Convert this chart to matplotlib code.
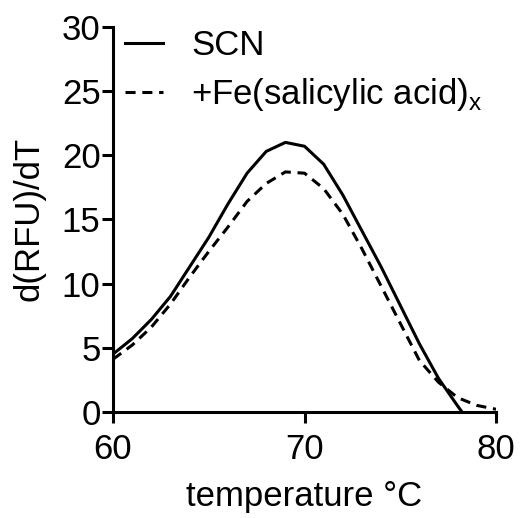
import matplotlib
matplotlib.use("Agg")
import matplotlib.pyplot as plt

plt.rcParams["font.family"] = ["Liberation Sans", "DejaVu Sans"]

# ---- data (1 degree steps) ----
temperature = [60, 61, 62, 63, 64, 65, 66, 67, 68, 69,
               70, 71, 72, 73, 74, 75, 76, 77, 78, 79, 80]
scn = [4.5, 5.7, 7.2, 9.0, 11.3, 13.6, 16.2, 18.6, 20.3, 21.0,
       20.7, 19.3, 16.9, 14.1, 11.3, 8.3, 5.3, 2.6, 0.45, -1.6, -3.6]
scn_fe = [4.1, 5.2, 6.6, 8.4, 10.5, 12.5, 14.4, 16.4, 17.8, 18.7,
          18.6, 17.4, 15.4, 12.7, 9.8, 6.9, 4.0, 2.3, 1.1, 0.5, 0.2]
labels = ["SCN", r"+Fe(salicylic acid)$_\mathregular{x}$"]

fs = 25

fig = plt.figure(figsize=(5.21, 5.18), dpi=100)
ax = fig.add_axes([0.217, 0.205, 0.735, 0.743])

lw = 2.2
ax.plot(temperature, scn, color="black", lw=lw, label=labels[0])
ax.plot(temperature, scn_fe, color="black", lw=lw,
        linestyle=(0, (3.3, 2.2)), label=labels[1])

ax.set_xlim(60, 80)
ax.set_ylim(0, 30)
ax.set_xticks([60, 70, 80])
ax.set_yticks([0, 5, 10, 15, 20, 25, 30])

for side in ["top", "right"]:
    ax.spines[side].set_visible(False)
for side in ["left", "bottom"]:
    ax.spines[side].set_linewidth(2.2)
ax.tick_params(axis="both", width=2.2, length=8, labelsize=fs, pad=1)
ax.tick_params(axis="x", length=8, pad=7)

ax.set_xlabel("temperature °C", fontsize=fs, labelpad=10)
ax.set_ylabel("d(RFU)/dT", fontsize=fs, labelpad=12)

ax.legend(loc="upper left", bbox_to_anchor=(-0.005, 1.03), frameon=False,
          fontsize=fs, handlelength=1.1, handletextpad=0.8,
          labelspacing=0.4, borderaxespad=0)

fig.savefig("out.png", dpi=100)
